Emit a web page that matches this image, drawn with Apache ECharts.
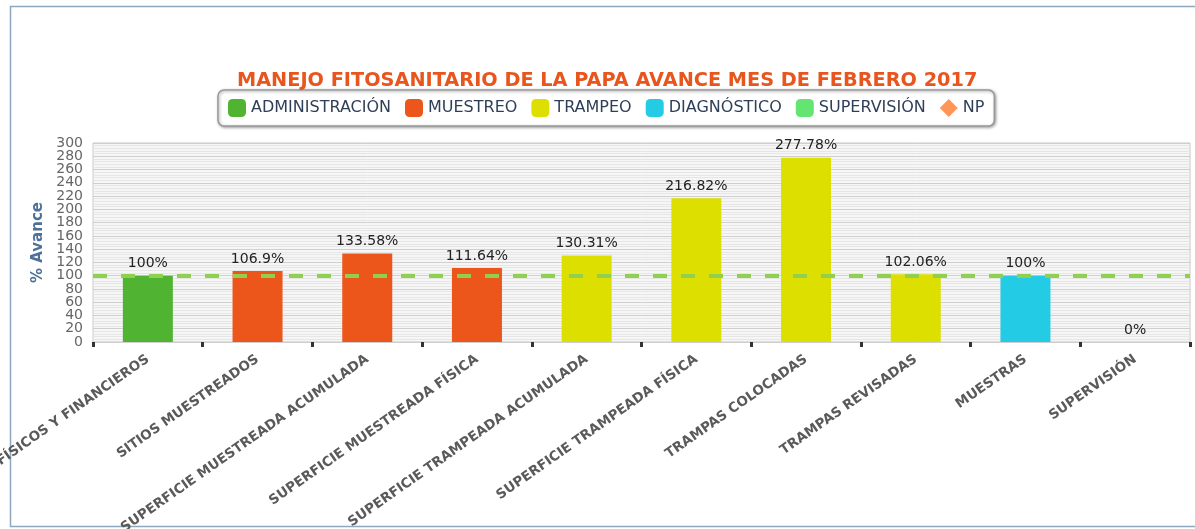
<!DOCTYPE html>
<html><head><meta charset="utf-8">
<script src="https://cdn.jsdelivr.net/npm/echarts@6/dist/echarts.min.js"></script>
<style>html,body{margin:0;padding:0;background:#fff}#c{width:1195px;height:529px}</style>
</head><body><div id="c"></div>
<script>
const categories = ["RECURSOS FÍSICOS Y FINANCIEROS","SITIOS MUESTREADOS","SUPERFICIE MUESTREADA ACUMULADA","SUPERFICIE MUESTREADA FÍSICA","SUPERFICIE TRAMPEADA ACUMULADA","SUPERFICIE TRAMPEADA FÍSICA","TRAMPAS COLOCADAS","TRAMPAS REVISADAS","MUESTRAS","SUPERVISIÓN"];
const values = [100, 106.9, 133.58, 111.64, 130.31, 216.82, 277.78, 102.06, 100, 0];
const groups = ["ADMINISTRACIÓN","MUESTREO","MUESTREO","MUESTREO","TRAMPEO","TRAMPEO","TRAMPEO","TRAMPEO","DIAGNÓSTICO","SUPERVISIÓN"];
const seriesNames = ["ADMINISTRACIÓN","MUESTREO","TRAMPEO","DIAGNÓSTICO","SUPERVISIÓN"];
const seriesColors = ["#50B432","#ED561B","#DDDF00","#24CBE5","#64E572"];
const npName = "NP";
const npColor = "#FF9655";
const target = 100;
const yMin = 0, yMax = 300, yStep = 20;
const titleText = "MANEJO FITOSANITARIO DE LA PAPA AVANCE MES DE FEBRERO 2017";

const font = "DejaVu Sans";
const chart = echarts.init(document.getElementById('c'));
const barSeries = seriesNames.map((n, i) => ({
  name: n, type: 'bar', stack: 'all', barWidth: 50, z: 3,
  itemStyle: {color: seriesColors[i]},
  label: {show: true, position: 'top', formatter: '{c}%', color: '#222', fontSize: 14, fontFamily: font, distance: 5},
  data: values.map((v, k) => groups[k] === n ? v : null)
}));
const npSeries = {
  name: npName, type: 'line', z: 1, symbol: 'diamond', symbolSize: 12,
  itemStyle: {color: npColor}, data: categories.map(() => null),
  markLine: {silent: true, symbol: 'none', label: {show: false},
    lineStyle: {color: '#8fd14f', width: 4, type: [14, 14]},
    data: [{yAxis: target}]}
};
const labelBase = {color: '#666', fontSize: 14, fontFamily: font, margin: 10, showMinLabel: true, showMaxLabel: true, hideOverlap: false};
chart.setOption({
  animation: false,
  backgroundColor: '#fff',
  title: {text: titleText, left: 232, top: 66,
    textStyle: {color: '#E8561E', fontSize: 19.3, fontWeight: 'bold', fontFamily: font}},
  legend: {top: 90, left: 218, itemWidth: 18, itemHeight: 18, itemGap: 14,
    padding: [9, 10, 9, 10], borderColor: '#999', borderWidth: 1.5, borderRadius: 6,
    backgroundColor: '#fff', shadowColor: 'rgba(0,0,0,0.35)', shadowBlur: 3, shadowOffsetX: 1, shadowOffsetY: 1,
    textStyle: {color: '#2f3f58', fontSize: 16, fontFamily: font},
    data: seriesNames.map(n => ({name: n, icon: 'roundRect'})).concat([{name: npName, icon: 'diamond'}])},
  grid: {left: 93, right: 5, top: 143, bottom: 187, containLabel: false, outerBoundsMode: 'none',
    show: true, backgroundColor: '#f6f6f6', borderColor: '#c8c8c8', borderWidth: 1},
  xAxis: {type: 'category', data: categories,
    axisLine: {show: false},
    axisTick: {show: true, length: 5, lineStyle: {color: '#333', width: 3}},
    axisLabel: {rotate: 35, interval: 0, color: '#5a5a5a', fontWeight: 'bold', fontSize: 13.5, fontFamily: font, margin: 16}},
  yAxis: [{type: 'value', min: yMin, max: yMax, interval: yStep, position: 'left',
    name: '% Avance', nameLocation: 'middle', nameGap: 47, nameRotate: 90,
    nameTextStyle: {color: '#4d7198', fontSize: 15, fontWeight: 'bold', fontFamily: font},
    axisLine: {show: false}, axisTick: {show: false},
    axisLabel: Object.assign({}, labelBase, {formatter: (v) => (v / yStep) % 2 === 0 ? String(v) : ''}),
    splitLine: {lineStyle: {color: '#cfcfcf', width: 1}},
    minorTick: {show: false, splitNumber: 5},
    minorSplitLine: {show: true, lineStyle: {color: '#e6e6e6', width: 1}}},
   {type: 'value', min: yMin, max: yMax, interval: yStep, position: 'left', offset: 0,
    axisLine: {show: false}, axisTick: {show: false}, splitLine: {show: false},
    axisLabel: Object.assign({}, labelBase, {formatter: (v) => (v / yStep) % 2 === 1 ? String(v) : ''})}],
  graphic: [{type: 'rect', shape: {x: 10.5, y: 6.5, width: 1200, height: 520}, silent: true, z: -1,
    style: {fill: 'none', stroke: '#8fa7bd', lineWidth: 1.5}}],
  series: [npSeries].concat(barSeries)
});
</script></body></html>
